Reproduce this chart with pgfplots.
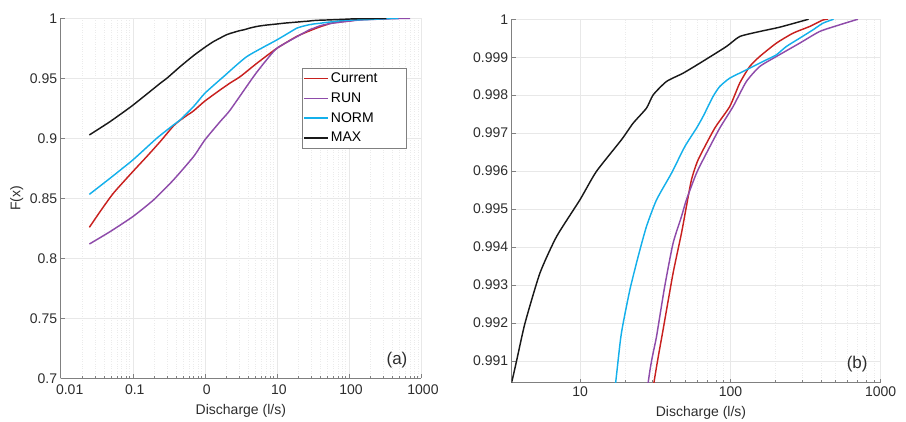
\documentclass[border=0pt]{standalone}
\usepackage{pgfplots}
\pgfplotsset{compat=1.18}
\usepackage{pgfplotstable}
\usepackage{fontspec}
\setmainfont{Liberation Sans}

\definecolor{cCur}{RGB}{200,32,30}
\definecolor{cRun}{RGB}{142,75,170}
\definecolor{cNorm}{RGB}{20,176,235}
\definecolor{cMax}{RGB}{25,25,25}
\definecolor{axgray}{RGB}{128,128,128}
\definecolor{txt}{RGB}{45,45,45}

% x = discharge (l/s), y = F(x)
\pgfplotstableread{
x y
0.025 0.8258
0.0352 0.8389
0.0538 0.8542
0.1 0.8722
0.156 0.8847
0.24 0.8972
0.367 0.9103
0.454 0.9150
0.562 0.9190
0.697 0.9228
1.0 0.9310
1.63 0.9403
2.3 0.9465
3.1 0.9514
5.27 0.9625
10 0.9750
19 0.9850
30.9 0.99041
35.6 0.991818
41.5 0.993311
47.2 0.994364
50.9 0.995067
55.0 0.995769
60.9 0.996296
78.6 0.99713
98.9 0.9977
115.2 0.998315
134.3 0.998754
156.5 0.999018
202 0.999369
260.8 0.999632
336.5 0.999808
412.8 0.99998
446 1.0
}\current

\pgfplotstableread{
x y
0.025 0.8119
0.0484 0.8222
0.1 0.8347
0.194 0.8486
0.367 0.8653
0.697 0.8847
1.0 0.8986
1.63 0.9139
2.25 0.9236
4.74 0.9514
7.0 0.9645
10 0.9750
19 0.9847
28.3 0.990413
32.2 0.991642
36.5 0.992959
41.5 0.994101
47.2 0.994803
50.9 0.995242
59.4 0.995945
69.2 0.996471
84.8 0.99713
104.1 0.9977
127.6 0.998359
156.5 0.998754
202 0.999018
288.8 0.999369
392 0.999676
532.8 0.999852
705.4 1.0
}\run

\pgfplotstableread{
x y
0.025 0.8533
0.0484 0.8667
0.1 0.8819
0.215 0.9000
0.367 0.9111
0.454 0.9153
0.697 0.9264
1.0 0.9375
1.82 0.9514
3.83 0.9681
10 0.9820
17.2 0.990413
18.8 0.99173
21.4 0.992872
24.3 0.99375
27.6 0.99454
32.2 0.995242
40.5 0.995945
49.7 0.996647
59.4 0.99713
65.7 0.997437
76.6 0.997964
84.8 0.998227
98.9 0.998447
127.6 0.998666
173.4 0.99893
202 0.999061
235.4 0.999281
288.8 0.9995
354.2 0.99972
412.8 0.999896
486 1.0
}\norm

\pgfplotstableread{
x y
0.025 0.9028
0.0484 0.9139
0.1 0.9275
0.24 0.9458
0.297 0.9500
0.454 0.9597
0.697 0.9689
1.0 0.9758
1.32 0.9806
2.02 0.9864
2.5 0.9882
3.0 0.9896
3.49 0.99043
3.77 0.991
4.29 0.991994
5.39 0.993311
6.96 0.994276
9.95 0.995242
12.8 0.995988
18.8 0.996823
22.5 0.997262
27.6 0.997657
30.6 0.998008
37.5 0.998359
48.4 0.998579
62.5 0.998842
94 0.999281
115.2 0.999544
156.5 0.999676
212.6 0.99979
319.8 0.999983
331 1.0
}\maxx

\pgfplotsset{
  cdfpanel/.style={
    scale only axis,
    axis lines=left,
    axis line style={-, draw=axgray, line width=0.6pt},
    tick align=inside,
    major tick length=4pt,
    minor tick length=2.5pt,
    tick style={draw=axgray, line width=0.5pt},
    grid=both,
    major grid style={draw=black!9, line width=0.5pt},
    minor grid style={draw=black!8, line width=0.4pt, dotted},
    tick label style={font=\fontsize{14}{16}\selectfont, text=txt},
    label style={font=\fontsize{14}{16}\selectfont, text=txt},
    /pgf/number format/assume math mode=true,
  },
  curve/.style={color=#1, line width=1.45pt, smooth, tension=0.35},
}

\begin{document}
\begin{tikzpicture}
\path[use as bounding box] (0,0) rectangle (906pt,421pt);

\begin{axis}[xmode=log, cdfpanel,
  at={(60.7pt,42.7pt)}, anchor=south west,
  width=360.3pt, height=360pt,
  xmin=0.01, xmax=1000, ymin=0.7, ymax=1,
  xtick={0.01,0.1,1,10,100,1000},
  xticklabels={\hspace*{14pt}0.01,0.1,0,10,100,1000},
  xticklabel style={xshift=2pt, yshift=-2.5pt},
  ytick={0.7,0.75,0.8,0.85,0.9,0.95,1},
  yticklabels={0.7,0.75,0.8,0.85,0.9,0.95,1},
  xlabel={Discharge (l/s)},
  ylabel={F(x)},
  xlabel style={at={(axis description cs:0.5,-0.091)}, anchor=center},
  ylabel style={at={(axis description cs:-0.122,0.5)}, anchor=center},
  legend style={at={(0.6706,0.861)}, anchor=north west, draw=axgray,
    fill=white, font=\fontsize{14}{16}\selectfont,
    inner xsep=1pt, inner ysep=2.5pt, row sep=4.5pt,
    cells={anchor=west}},
  legend image code/.code={\draw[mark repeat=2,mark phase=2,#1]
    plot coordinates {(0pt,0pt) (12pt,0pt) (24pt,0pt)};},
]
\addplot[curve=cCur] table[x=x, y=y] {\current};
\addlegendentry{Current\hspace*{26pt}}
\addplot[curve=cRun] table[x=x, y=y] {\run};
\addlegendentry{RUN}
\addplot[curve=cNorm] table[x=x, y=y] {\norm};
\addlegendentry{NORM}
\addplot[curve=cMax] table[x=x, y=y] {\maxx};
\addlegendentry{MAX}
\node[anchor=base east, font=\fontsize{17}{19}\selectfont, text=txt]
  at (rel axis cs:0.972,0.037) {(a)};
\end{axis}

\begin{axis}[xmode=log, cdfpanel,
  at={(511.7pt,38.3pt)}, anchor=south west,
  width=369pt, height=363.4pt,
  xmin=3.5, xmax=1000, ymin=0.99043, ymax=1,
  xtick={10,100,1000},
  xticklabels={10,100,1000},
  xticklabel style={yshift=-0.5pt},
  ytick={0.991,0.992,0.993,0.994,0.995,0.996,0.997,0.998,0.999,1},
  yticklabels={0.991,0.992,0.993,0.994,0.995,0.996,0.997,0.998,0.999,1},
  xlabel={Discharge (l/s)},
  xlabel style={at={(axis description cs:0.513,-0.083)}, anchor=center},
]
\addplot[curve=cCur] table[x=x, y=y] {\current};
\addplot[curve=cRun] table[x=x, y=y] {\run};
\addplot[curve=cNorm] table[x=x, y=y] {\norm};
\addplot[curve=cMax] table[x=x, y=y] {\maxx};
\node[anchor=base east, font=\fontsize{17}{19}\selectfont, text=txt]
  at (rel axis cs:0.974,0.04) {(b)};
\end{axis}
\end{tikzpicture}
\end{document}
